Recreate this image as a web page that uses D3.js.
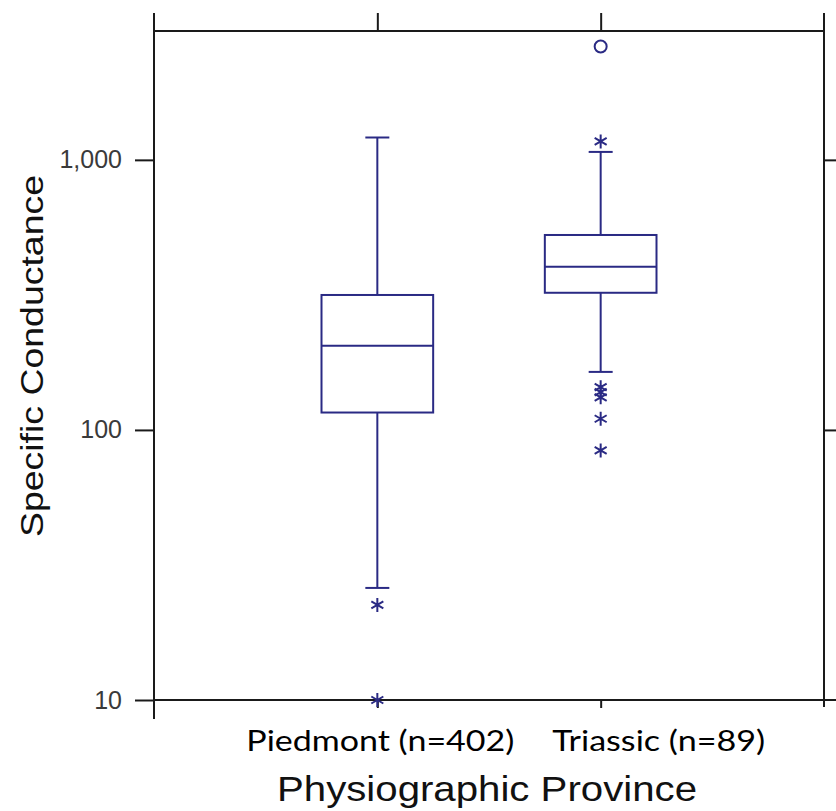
<!DOCTYPE html>
<html>
<head>
<meta charset="utf-8">
<script src="https://cdn.jsdelivr.net/npm/d3@7"></script>
<style>
  body { margin: 0; background: #fff; }
  svg { display: block; }
</style>
</head>
<body>
<svg id="chart"></svg>
<script>
// data
const categories = ['Piedmont', 'Triassic']
const categoryLabels = ['Piedmont (n=402)', 'Triassic (n=89)']
const whiskerLow = [26, 164]
const q1 = [116, 322]
const median = [205, 402]
const q3 = [316, 527]
const whiskerHigh = [1210, 1070]
const starOutliers = [[22.5, 10], [1170, 144, 138, 132, 110, 84]]
const farOutliers = [[], [2630]]
const yTicks = [10, 100, 1000]

// setting up container
    const width = 836
    const height = 811
    const plotLeft = 154, plotRight = 824, plotTop = 31, plotBottom = 700
    const navy = '#2a2a84'
    const ink = '#1a1a1a'

    const svg = d3.select('#chart')
        .attr('width', width)
        .attr('height', height)
        .attr('viewBox', `0 0 ${width} ${height}`)

// scales
    const xScale = d3.scalePoint()
        .domain(categories)
        .range([plotLeft, plotRight])
        .padding(1)
    const yScale = d3.scaleLog()
        .domain([10, 3000])
        .range([plotBottom, plotTop])

    const boxWidth = xScale.step() * 0.5
    const capWidth = 24

// frame lines (open frame, axes poke out past the corners)
    const frame = svg.append('g')
        .attr('stroke', ink)
        .attr('stroke-width', 2)
    frame.append('line').attr('x1', plotLeft).attr('x2', plotLeft).attr('y1', plotTop - 18).attr('y2', plotBottom + 19)
    frame.append('line').attr('x1', plotRight).attr('x2', plotRight).attr('y1', plotTop - 18).attr('y2', plotBottom + 7)
    frame.append('line').attr('x1', plotLeft).attr('x2', plotRight).attr('y1', plotTop).attr('y2', plotTop)
    frame.append('line').attr('x1', plotLeft).attr('x2', width).attr('y1', plotBottom).attr('y2', plotBottom)

// axes
    const styleAxis = g => {
        g.select('.domain').remove()
        g.selectAll('.tick line').attr('stroke', ink).attr('stroke-width', 2)
    }

    svg.append('g')
        .attr('transform', `translate(${plotLeft},0)`)
        .call(d3.axisLeft(yScale).tickValues(yTicks).tickSize(19).tickPadding(13).tickFormat(d3.format(',')))
        .call(styleAxis)
        .selectAll('text')
            .attr('font-family', 'Liberation Sans, Arial, sans-serif')
            .attr('font-size', 25)
            .attr('fill', '#3a3a3a')

    svg.append('g')
        .attr('transform', `translate(${plotRight},0)`)
        .call(d3.axisRight(yScale).tickValues([100, 1000]).tickSize(14).tickFormat(''))
        .call(styleAxis)

    svg.append('g')
        .attr('transform', `translate(0,${plotTop})`)
        .call(d3.axisTop(xScale).tickSize(18).tickFormat(''))
        .call(styleAxis)

    svg.append('g')
        .attr('transform', `translate(0,${plotBottom})`)
        .call(d3.axisBottom(xScale).tickSize(8).tickFormat(''))
        .call(styleAxis)

// category labels (placed by hand in the original, not centred on the ticks)
    const labelShift = [3, 58]
    const labelLength = [268, 213]
    svg.append('g')
        .selectAll('text')
        .data(categories)
        .join('text')
            .attr('x', (d, i) => xScale(d) + labelShift[i])
            .attr('y', 751)
            .attr('text-anchor', 'middle')
            .attr('font-family', 'Lato, "Open Sans", sans-serif')
            .attr('font-size', 28)
            .attr('fill', '#000')
            .attr('textLength', (d, i) => labelLength[i])
            .attr('lengthAdjust', 'spacingAndGlyphs')
            .text((d, i) => categoryLabels[i])

// axis titles
    svg.append('text')
        .attr('x', 487)
        .attr('y', 801)
        .attr('text-anchor', 'middle')
        .attr('font-family', 'Liberation Sans, Arial, sans-serif')
        .attr('font-size', 35)
        .attr('fill', '#111')
        .attr('textLength', 420)
        .attr('lengthAdjust', 'spacingAndGlyphs')
        .text('Physiographic Province')

    svg.append('text')
        .attr('transform', 'translate(43,356) rotate(-90)')
        .attr('text-anchor', 'middle')
        .attr('font-family', 'Liberation Sans, Arial, sans-serif')
        .attr('font-size', 32)
        .attr('fill', '#111')
        .attr('textLength', 362)
        .attr('lengthAdjust', 'spacingAndGlyphs')
        .text('Specific Conductance')

// boxes
    const boxes = svg.append('g')
        .attr('stroke', navy)
        .attr('stroke-width', 2)
        .attr('fill', 'none')
        .selectAll('g')
        .data(categories)
        .join('g')

    boxes.append('line')
        .attr('x1', d => xScale(d)).attr('x2', d => xScale(d))
        .attr('y1', (d, i) => yScale(whiskerHigh[i]))
        .attr('y2', (d, i) => yScale(q3[i]))
    boxes.append('line')
        .attr('x1', d => xScale(d)).attr('x2', d => xScale(d))
        .attr('y1', (d, i) => yScale(q1[i]))
        .attr('y2', (d, i) => yScale(whiskerLow[i]))
    boxes.append('line')
        .attr('x1', d => xScale(d) - capWidth / 2).attr('x2', d => xScale(d) + capWidth / 2)
        .attr('y1', (d, i) => yScale(whiskerHigh[i])).attr('y2', (d, i) => yScale(whiskerHigh[i]))
    boxes.append('line')
        .attr('x1', d => xScale(d) - capWidth / 2).attr('x2', d => xScale(d) + capWidth / 2)
        .attr('y1', (d, i) => yScale(whiskerLow[i])).attr('y2', (d, i) => yScale(whiskerLow[i]))
    boxes.append('rect')
        .attr('x', d => xScale(d) - boxWidth / 2)
        .attr('y', (d, i) => yScale(q3[i]))
        .attr('width', boxWidth)
        .attr('height', (d, i) => yScale(q1[i]) - yScale(q3[i]))
    boxes.append('line')
        .attr('x1', d => xScale(d) - boxWidth / 2).attr('x2', d => xScale(d) + boxWidth / 2)
        .attr('y1', (d, i) => yScale(median[i])).attr('y2', (d, i) => yScale(median[i]))

// outliers: asterisks and open circles
    const starPath = 'M0,-7L0,7M-6,-3.5L6,3.5M-6,3.5L6,-3.5'
    const stars = categories.flatMap((c, i) => starOutliers[i].map(v => ({c, v})))
    const circles = categories.flatMap((c, i) => farOutliers[i].map(v => ({c, v})))

    svg.append('g')
        .selectAll('path')
        .data(stars)
        .join('path')
            .attr('d', starPath)
            .attr('transform', d => `translate(${xScale(d.c)},${yScale(d.v)})`)
            .attr('stroke', navy)
            .attr('stroke-width', 2)
            .attr('fill', 'none')

    svg.append('g')
        .selectAll('circle')
        .data(circles)
        .join('circle')
            .attr('cx', d => xScale(d.c))
            .attr('cy', d => yScale(d.v))
            .attr('r', 6)
            .attr('stroke', navy)
            .attr('stroke-width', 2)
            .attr('fill', 'none')
</script>
</body>
</html>
